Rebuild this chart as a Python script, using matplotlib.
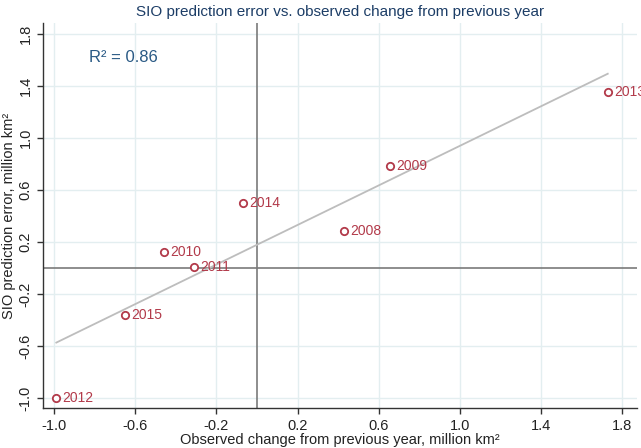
import numpy as np
import matplotlib as mpl
mpl.use('Agg')
import matplotlib.pyplot as plt

plt.rcParams['font.family'] = ['Liberation Sans', 'DejaVu Sans']

# observed change from previous year vs SIO prediction error (million km^2)
years = ["2008", "2009", "2010", "2011", "2012", "2013", "2014", "2015"]
obs_change = [0.43, 0.655, -0.46, -0.31, -0.99, 1.73, -0.07, -0.653]
pred_error = [0.285, 0.783, 0.121, 0.010, -1.0, 1.352, 0.498, -0.362]
r2_text = "R\u00b2 = 0.86"

xticks = [-1.0, -0.6, -0.2, 0.2, 0.6, 1.0, 1.4, 1.8]
yticks = [-1.0, -0.6, -0.2, 0.2, 0.6, 1.0, 1.4, 1.8]

red = "#b23a4a"
axis_col = "#333333"

fig = plt.figure(figsize=(6.41, 4.48), dpi=100)
ax = fig.add_axes([0.067, 0.089, 0.927, 0.859])

ax.set_xlim(-1.056, 1.875)
ax.set_ylim(-1.077, 1.882)

# grid at ticks
ax.set_xticks(xticks)
ax.set_yticks(yticks)
ax.set_xticklabels([f"{t:.1f}" for t in xticks])
ax.set_yticklabels([f"{t:.1f}" for t in yticks], rotation=90, va="center")
ax.grid(True, color="#e3eef0", linewidth=1.0)
ax.set_axisbelow(True)

# zero reference lines
ax.axvline(0, color="#7a7a7a", linewidth=1.2, zorder=1)
ax.axhline(0, color="#7a7a7a", linewidth=1.2, zorder=1)

# regression line
x = np.array(obs_change)
y = np.array(pred_error)
slope, icpt = np.polyfit(x, y, 1)
xl = np.array([x.min(), x.max()])
ax.plot(xl, slope * xl + icpt, color="#bdbdbd", linewidth=1.3, zorder=2)

ax.scatter(x, y, s=28, facecolors="white", edgecolors=red, linewidths=1.3, zorder=3)
for yr, xi, yi in zip(years, obs_change, pred_error):
    ax.annotate(yr, (xi, yi), xytext=(4.5, 0), textcoords="offset points",
                va="center", ha="left", color=red, fontsize=10, zorder=4,
                annotation_clip=False)

ax.text(-0.83, 1.62, r2_text, color="#2a5a85", fontsize=12, va="center")

for s in ["top", "right"]:
    ax.spines[s].set_visible(False)
for s in ["left", "bottom"]:
    ax.spines[s].set_color(axis_col)
    ax.spines[s].set_linewidth(1.0)
ax.tick_params(colors=axis_col, labelcolor="#222222", labelsize=10.5, length=4, width=1)

ax.set_title("SIO prediction error vs. observed change from previous year",
             color="#1c3d66", fontsize=11, pad=5)
ax.set_xlabel("Observed change from previous year, million km\u00b2", fontsize=10.5,
              color="#222222", labelpad=0)
ax.set_ylabel("SIO prediction error, million km\u00b2", fontsize=10.5,
              color="#222222", labelpad=2)

fig.savefig("out.png", dpi=100)
